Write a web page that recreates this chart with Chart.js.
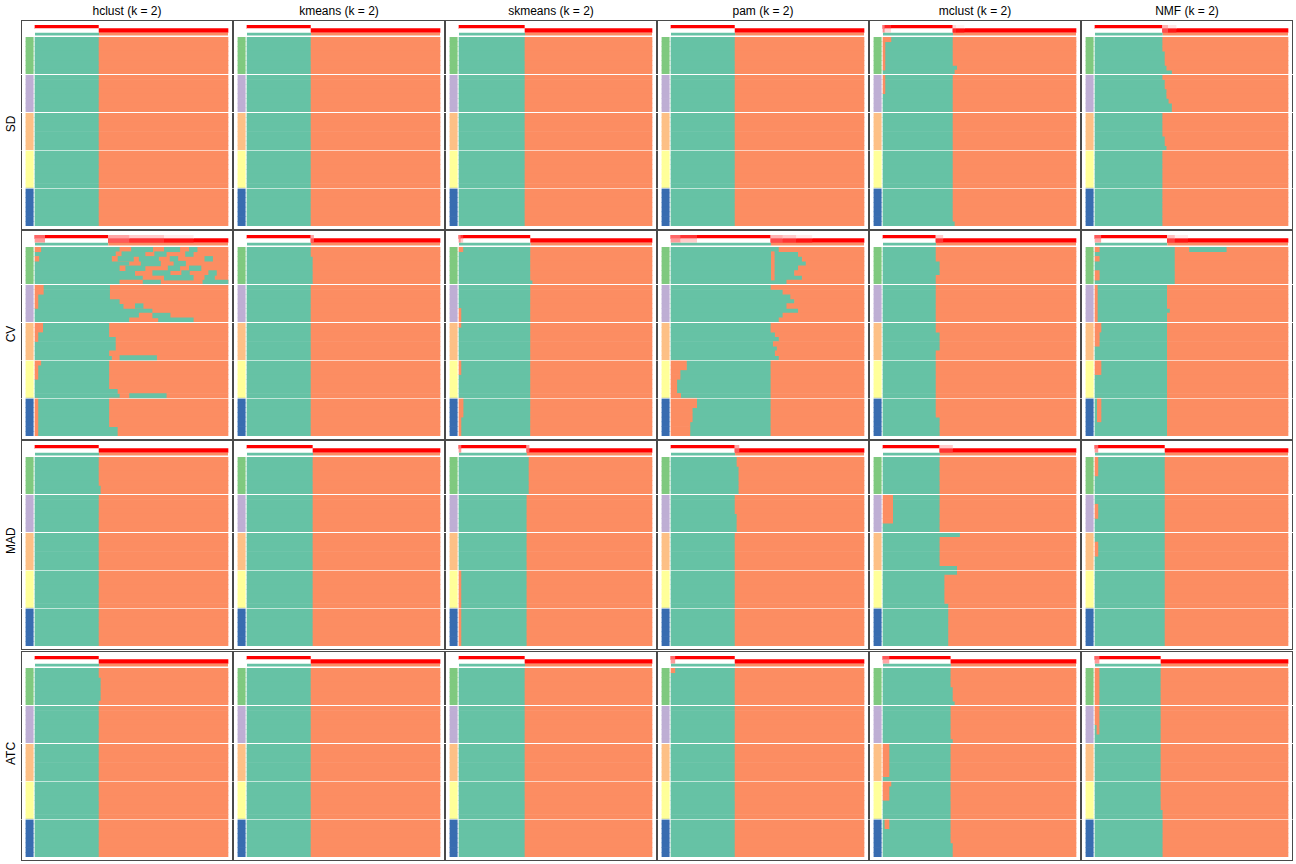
<!DOCTYPE html>
<html>
<head>
<meta charset="utf-8">
<script src="https://cdn.jsdelivr.net/npm/chart.js@4.4.1/dist/chart.umd.min.js"></script>
<style>
  body { margin: 0; background: #fff; font-family: "Liberation Sans", Arial, Helvetica, sans-serif; }
  #wrap { position: relative; width: 1296px; height: 864px; overflow: hidden; }
  .panel { position: absolute; box-sizing: border-box; border: 1px solid #4a4a4a; }
  .head { position: absolute; top: 3px; height: 16px; line-height: 16px; font-size: 12px; text-align: center; color: #000; }
  .side { position: absolute; left: 1px; width: 20px; font-size: 12px; text-align: center; color: #000; transform: rotate(-90deg); }
  canvas { position: absolute; }
</style>
</head>
<body>
<div id="wrap"></div>
<script>
// columns and rows of the grid
const methods = ['hclust', 'kmeans', 'skmeans', 'pam', 'mclust', 'NMF'];
const topValueMethods = ['SD', 'CV', 'MAD', 'ATC'];
const groupColors = ['#7FC97F', '#BEAED4', '#FDC086', '#FFFF99', '#386CB0'];
const rowsPerGroup = 8;

// % of samples in class 1 (green) for each method
const splitSD  = [33.2, 33.2, 34.2, 33.2, 36.3, 35.1];
const splitCV  = [38.0, 33.2, 37.1, 51.8, 27.5, 37.5];
const splitMAD = [33.2, 34.2, 35.2, 33.2, 29.5, 36.3];
const splitATC = [33.2, 33.2, 34.2, 33.2, 35.2, 34.2];

// rows where the green edge moves: [method, fromRow, toRow, edge]
const edgeSD = [
  [4, 6, 6, 38.5], [4, 7, 7, 37.3], [4, 39, 39, 37.3],
  [5, 3, 5, 36.3], [5, 6, 6, 37.2], [5, 7, 7, 40], [5, 9, 10, 36.3], [5, 11, 12, 37.2],
  [5, 13, 13, 38.3], [5, 14, 15, 40], [5, 21, 22, 36.3], [5, 23, 23, 37.2]
];
const edgeCV = [
  [0, 0, 0, 44], [0, 1, 1, 42], [0, 2, 2, 40], [0, 3, 3, 49], [0, 4, 4, 44], [0, 5, 5, 52],
  [0, 6, 6, 56], [0, 7, 7, 44], [0, 8, 10, 39], [0, 11, 11, 44], [0, 12, 12, 46], [0, 13, 13, 61],
  [0, 14, 14, 54], [0, 15, 15, 49], [0, 16, 18, 38.6], [0, 19, 21, 42], [0, 22, 22, 38.6],
  [0, 23, 23, 40], [0, 24, 29, 38.6], [0, 30, 30, 43], [0, 31, 31, 44], [0, 32, 37, 38.6], [0, 38, 39, 43],
  [1, 2, 7, 34.2],
  [2, 7, 7, 38.2],
  [3, 0, 0, 56], [3, 1, 1, 66], [3, 2, 2, 68], [3, 3, 3, 70], [3, 4, 4, 66], [3, 5, 5, 64],
  [3, 6, 6, 68], [3, 7, 7, 60], [3, 9, 9, 58], [3, 10, 10, 62], [3, 11, 11, 64], [3, 12, 12, 60],
  [3, 13, 13, 66], [3, 14, 14, 58], [3, 15, 15, 56], [3, 18, 18, 54], [3, 19, 19, 56],
  [3, 20, 20, 53], [3, 21, 21, 55], [3, 22, 22, 54], [3, 23, 23, 56],
  [4, 3, 5, 29.5], [4, 18, 21, 29.5], [4, 36, 39, 29.5],
  [5, 0, 7, 41.5], [5, 13, 13, 38.9]
];
const edgeMAD = [
  [0, 6, 7, 34.2],
  [2, 0, 7, 36.3],
  [3, 0, 1, 34.2], [3, 2, 7, 35.2], [3, 12, 15, 34.2],
  [4, 16, 16, 40], [4, 23, 24, 38.5], [4, 25, 30, 32], [4, 31, 39, 34]
];
const edgeATC = [
  [0, 2, 6, 34.2],
  [4, 4, 6, 36.3], [4, 7, 7, 37.3], [4, 15, 15, 36.3], [4, 37, 39, 36.3],
  [5, 30, 39, 35.2]
];

// class 2 (orange) at the start of a row: [method, fromRow, toRow, end]
const leftSD = [[4, 0, 0, 4.1], [4, 1, 6, 1], [4, 8, 11, 1]];
const leftCV = [
  [0, 0, 0, 3], [0, 2, 2, 2], [0, 8, 9, 4.3], [0, 10, 12, 1.5], [0, 16, 17, 4], [0, 18, 19, 1.5],
  [0, 24, 24, 3], [0, 25, 27, 1.5], [0, 32, 39, 1.5],
  [2, 0, 0, 2], [2, 13, 16, 1], [2, 24, 26, 1], [2, 32, 35, 2.1], [2, 36, 39, 1],
  [3, 24, 25, 8], [3, 26, 27, 4.7], [3, 28, 30, 3], [3, 31, 31, 5], [3, 32, 33, 13.3],
  [3, 34, 36, 11], [3, 37, 39, 9.8],
  [5, 0, 0, 2.2], [5, 2, 2, 2.2], [5, 5, 6, 2.2], [5, 8, 15, 1.2], [5, 16, 17, 3.1],
  [5, 18, 20, 2.2], [5, 24, 26, 3.1]
];
const leftMAD = [[2, 24, 39, 1], [4, 8, 13, 5], [5, 0, 3, 1.5], [5, 10, 12, 1.5], [5, 18, 20, 1.5]];
const leftATC = [
  [3, 0, 0, 2], [4, 16, 22, 3.1], [4, 24, 24, 4.1], [4, 25, 27, 3.1], [5, 0, 11, 2.1]
];

// streaks inside a row: [method, fromRow, toRow, from, to, class]
const patchSD = [];
const patchCV = [
  [0, 0, 0, 50, 61, 1], [0, 0, 0, 67, 75, 1], [0, 0, 0, 80, 84, 1],
  [0, 1, 1, 45, 57, 1], [0, 1, 1, 62, 68, 1], [0, 1, 1, 78, 82, 1],
  [0, 2, 2, 43, 51, 1], [0, 2, 2, 54, 64, 1], [0, 2, 2, 70, 74, 1], [0, 2, 2, 88, 92, 1],
  [0, 3, 3, 55, 65, 1], [0, 3, 3, 72, 78, 1],
  [0, 4, 4, 47, 57, 1], [0, 4, 4, 69, 75, 1], [0, 4, 4, 80, 86, 1],
  [0, 5, 5, 61, 70, 1], [0, 5, 5, 76, 80, 1], [0, 5, 5, 90, 94, 1],
  [0, 6, 6, 67, 82, 1], [0, 6, 6, 88, 93, 1],
  [0, 7, 7, 56, 65, 1], [0, 7, 7, 87, 100, 1],
  [0, 12, 12, 52, 56, 1], [0, 14, 14, 61, 70, 1], [0, 15, 15, 64, 82, 1], [0, 23, 23, 44, 63, 1],
  [0, 31, 31, 49, 68, 1],
  [3, 1, 6, 52, 53.5, 2],
  [5, 0, 0, 49, 68, 1], [5, 32, 36, 1.2, 3.1, 2]
];
const patchMAD = [];
const patchATC = [[4, 32, 33, 1, 3.1, 2], [5, 12, 13, 1, 2.1, 2]];

// membership probability of class 1 where it is not clear: [method, from, to, p1]
const probSD = [[4, 0, 1, 0.55], [4, 1, 4, 0.85], [4, 36.3, 38, 0.15], [4, 38, 42, 0.05],
  [5, 35.1, 38, 0.3], [5, 38, 42, 0.1]];
const probCV = [
  [0, 0, 5, 0.6], [0, 38, 49, 0.35], [0, 49, 67, 0.2], [0, 67, 82, 0.08],
  [1, 33.2, 34.5, 0.35],
  [2, 0, 1, 0.55], [2, 1, 2, 0.8],
  [3, 0, 5, 0.6], [3, 5, 13.3, 0.8], [3, 51.8, 58, 0.3], [3, 58, 65, 0.2], [3, 65, 73, 0.08],
  [4, 27.5, 31, 0.2],
  [5, 0, 3, 0.65], [5, 37.5, 41.5, 0.25], [5, 41.5, 48, 0.08]
];
const probMAD = [[2, 0, 1, 0.6], [2, 35.2, 36.3, 0.4], [3, 33.2, 35.2, 0.35], [4, 29.5, 36, 0.2], [5, 0, 1.5, 0.6]];
const probATC = [[3, 0, 2, 0.6], [4, 0, 3.1, 0.65], [5, 0, 2.1, 0.6]];

const splits = [splitSD, splitCV, splitMAD, splitATC];
const edges = [edgeSD, edgeCV, edgeMAD, edgeATC];
const lefts = [leftSD, leftCV, leftMAD, leftATC];
const patches = [patchSD, patchCV, patchMAD, patchATC];
const probs = [probSD, probCV, probMAD, probATC];

const GREEN = '#66C2A5';
const ORANGE = '#FC8D62';
const sepColors = ['#ffffff', '#ffffff', 'rgba(255,255,255,0.6)', 'rgba(255,255,255,0.6)'];
const X_MIN = -7.25, X_MAX = 102.59;

const rowLabels = [];
for (let g = 0; g < groupColors.length; g++)
  for (let s = 0; s < rowsPerGroup; s++) rowLabels.push('g' + (g + 1) + '.' + (s + 1));

function probColor(p) {
  const v = Math.round(255 * (1 - p));
  return 'rgb(255,' + v + ',' + v + ')';
}

function perRow(list, c, base) {
  const out = rowLabels.map(() => base);
  list.filter(e => e[0] === c).forEach(e => {
    for (let i = e[1]; i <= e[2]; i++) out[i] = e[3];
  });
  return out;
}

function bar(data, color, extra) {
  return Object.assign({ data: data, backgroundColor: color, borderWidth: 0, grouped: false,
    barPercentage: 1, categoryPercentage: 1 }, extra || {});
}

// later datasets must be painted over earlier ones
function paintInOrder(datasets) {
  datasets.forEach((d, i) => { d.order = datasets.length - i; });
  return datasets;
}

function options(yScale) {
  return {
    indexAxis: 'y', responsive: false, animation: false, events: [],
    layout: { padding: 0 },
    plugins: { legend: { display: false }, tooltip: { enabled: false } },
    scales: { x: { type: 'linear', min: X_MIN, max: X_MAX, display: false }, y: yScale }
  };
}

function heatChart(canvas, r, c) {
  const edge = perRow(edges[r], c, splits[r][c]);
  const left = perRow(lefts[r], c, 0);
  const datasets = [
    bar(rowLabels.map(() => [-4.7, -0.9]), rowLabels.map((_, i) => groupColors[Math.floor(i / rowsPerGroup)])),
    bar(rowLabels.map((_, i) => [left[i], edge[i]]), GREEN),
    bar(rowLabels.map((_, i) => [edge[i], 100]), ORANGE),
    bar(rowLabels.map((_, i) => left[i] > 0 ? [0, left[i]] : null), ORANGE)
  ];
  patches[r].filter(p => p[0] === c).forEach(p => {
    datasets.push(bar(rowLabels.map((_, i) => i >= p[1] && i <= p[2] ? [p[3], p[4]] : null),
      p[5] === 1 ? GREEN : ORANGE));
  });
  new Chart(canvas, {
    type: 'bar',
    data: { labels: rowLabels, datasets: paintInOrder(datasets) },
    options: options({
      type: 'category', offset: true, display: true,
      ticks: { display: false },
      border: { display: false },
      grid: {
        offset: true, drawTicks: false, z: 1, lineWidth: 1,
        color: ctx => (ctx.index > 0 && ctx.index < rowLabels.length && ctx.index % rowsPerGroup === 0)
          ? sepColors[ctx.index / rowsPerGroup - 1] : 'rgba(0,0,0,0)'
      }
    })
  });
}

function annotationChart(canvas, r, c) {
  const split = splits[r][c];
  const blocks = [[0, split, 1], [split, 100, 0]].concat(
    probs[r].filter(p => p[0] === c).map(p => [p[1], p[2], p[3]]));
  const datasets = blocks.map(b => bar([[b[0], b[1]], [b[0], b[1]], null],
    [probColor(b[2]), probColor(1 - b[2]), null]));
  datasets.push(bar([null, null, [0, split]], GREEN, { barPercentage: 0.75 }));
  datasets.push(bar([null, null, [split, 100]], ORANGE, { barPercentage: 0.75 }));
  new Chart(canvas, {
    type: 'bar',
    data: { labels: ['class 1', 'class 2', 'class'], datasets: paintInOrder(datasets) },
    options: options({ type: 'category', offset: true, display: false })
  });
}

const wrap = document.getElementById('wrap');
const PX0 = 21, PW = 212, PY0 = 20, PH = 210.2;

function addCanvas(x, y, w, h) {
  const cv = document.createElement('canvas');
  cv.width = w; cv.height = h;
  cv.style.left = x + 'px'; cv.style.top = y + 'px';
  cv.style.width = w + 'px'; cv.style.height = h + 'px';
  wrap.appendChild(cv);
  return cv;
}

methods.forEach((m, c) => {
  const h = document.createElement('div');
  h.className = 'head';
  h.style.left = (PX0 + PW * c) + 'px';
  h.style.width = PW + 'px';
  h.textContent = m + ' (k = 2)';
  wrap.appendChild(h);
});

topValueMethods.forEach((t, r) => {
  const top = Math.round(PY0 + PH * r);
  const s = document.createElement('div');
  s.className = 'side';
  s.style.top = (top + 97) + 'px';
  s.textContent = t;
  wrap.appendChild(s);
  methods.forEach((m, c) => {
    const left = PX0 + PW * c;
    const p = document.createElement('div');
    p.className = 'panel';
    p.style.left = left + 'px'; p.style.top = top + 'px';
    p.style.width = PW + 'px'; p.style.height = Math.round(PH) + 'px';
    wrap.appendChild(p);
    annotationChart(addCanvas(left, top + 5, PW, 11), r, c);
    heatChart(addCanvas(left, top + 17, PW, 189), r, c);
  });
});
</script>
</body>
</html>
